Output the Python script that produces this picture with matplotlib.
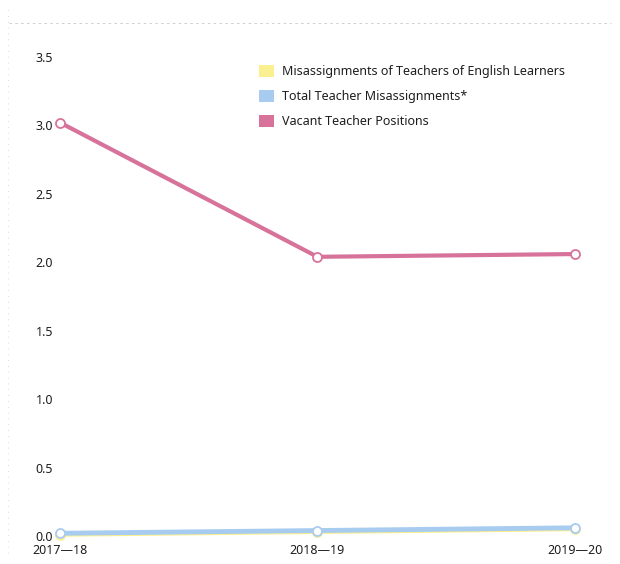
import matplotlib
matplotlib.use("Agg")
import matplotlib.pyplot as plt
from matplotlib.patches import Patch
from matplotlib.lines import Line2D

years = ["2017\u201418", "2018\u201419", "2019\u201420"]
el_misassign = [0.01, 0.03, 0.05]
total_misassign = [0.02, 0.04, 0.06]
vacant = [3.02, 2.04, 2.06]
yticks = [0.0, 0.5, 1.0, 1.5, 2.0, 2.5, 3.0, 3.5]

c_yellow = "#fbf08f"
c_blue = "#a8ccf0"
c_pink = "#d7739a"

plt.rcParams["font.family"] = ["Noto Sans", "DejaVu Sans"]

fig = plt.figure(figsize=(6.2, 5.64), dpi=100)
ax = fig.add_axes([0.097, 0.0496, 0.83, 0.8494])

x = list(range(len(years)))
for vals, col, lw, z in [(el_misassign, c_yellow, 3, 2),
                         (total_misassign, c_blue, 3.5, 3),
                         (vacant, c_pink, 3, 4)]:
    ax.plot(x, vals, color=col, lw=lw, marker="o", ms=6.5, mfc="white",
            mec=col, mew=1.3, clip_on=False, zorder=z)

ax.set_xlim(0, 2)
ax.set_ylim(0, 3.5)
ax.set_yticks(yticks)
ax.set_yticklabels([f"{v:.1f}" for v in yticks])
ax.set_xticks(x)
ax.set_xticklabels(years)
ax.tick_params(axis="y", length=0, pad=5, labelsize=9, labelcolor="#1e1e1e")
ax.tick_params(axis="x", length=0, pad=6, labelsize=9, labelcolor="#1e1e1e")
for s in ax.spines.values():
    s.set_visible(False)

handles = [Patch(facecolor=c_yellow, edgecolor="none"),
           Patch(facecolor=c_blue, edgecolor="none"),
           Patch(facecolor=c_pink, edgecolor="none")]
labels = ["Misassignments of Teachers of English Learners",
          "Total Teacher Misassignments*",
          "Vacant Teacher Positions"]
fig.legend(handles, labels, loc="upper left", bbox_to_anchor=(0.4, 0.905),
           frameon=False, fontsize=9, handlelength=1.2, handleheight=1.1,
           handletextpad=0.6, labelspacing=0.95, labelcolor="#1e1e1e")

# faint border lines along the page edge
fig.add_artist(Line2D([0.015, 0.985], [0.96, 0.96], transform=fig.transFigure,
                      color="#c8c8c8", lw=0.6, ls=(0, (3, 4))))
fig.add_artist(Line2D([0.013, 0.013], [0.02, 0.99], transform=fig.transFigure,
                      color="#d0d0d0", lw=0.6, ls=(0, (1, 6))))

fig.savefig("out.png", dpi=100, facecolor="white")
